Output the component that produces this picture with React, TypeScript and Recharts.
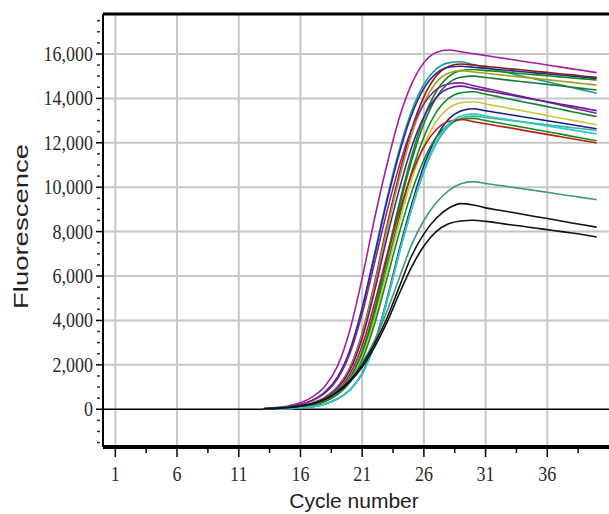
import React from 'react';
import { LineChart, Line, XAxis, YAxis, ReferenceLine, Label } from 'recharts';

// cycles 13..40
const cycles = [13, 14, 15, 16, 17, 18, 19, 20, 21, 22, 23, 24, 25, 26, 27, 28, 29, 30, 31, 32, 33, 34, 35, 36, 37, 38, 39, 40];

const purpleTop = [30, 80, 150, 290, 570, 1050, 1940, 3560, 5910, 8580, 11000, 13110, 14640, 15610, 16070, 16180, 16100, 16010, 15930, 15840, 15760, 15670, 15590, 15500, 15420, 15330, 15250, 15160];
const tealTop = [20, 55, 110, 210, 415, 780, 1450, 2660, 4580, 7000, 9470, 11660, 13420, 14630, 15320, 15600, 15650, 15520, 15390, 15260, 15130, 15000, 14870, 14750, 14620, 14490, 14360, 14230];
const maroon = [15, 30, 80, 140, 280, 540, 1010, 1870, 3420, 5680, 8240, 10570, 12600, 14070, 15010, 15440, 15550, 15500, 15440, 15390, 15330, 15280, 15220, 15170, 15110, 15060, 15000, 14950];
const navyHigh = [20, 50, 110, 210, 410, 770, 1430, 2630, 4520, 6910, 9350, 11510, 13250, 14450, 15130, 15400, 15450, 15400, 15350, 15300, 15250, 15200, 15150, 15100, 15050, 15000, 14950, 14900];
const greenHigh = [10, 20, 55, 105, 210, 405, 765, 1415, 2600, 4480, 6850, 9260, 11400, 13120, 14310, 14980, 15250, 15300, 15250, 15210, 15160, 15110, 15070, 15020, 14970, 14920, 14880, 14830];
const olive = [15, 30, 75, 135, 275, 530, 990, 1830, 3360, 5570, 8080, 10370, 12350, 13800, 14720, 15140, 15250, 15190, 15130, 15070, 15010, 14950, 14900, 14840, 14780, 14720, 14660, 14600];
const greenMid = [10, 20, 50, 105, 200, 400, 750, 1390, 2550, 4390, 6710, 9080, 11180, 12860, 14030, 14690, 14950, 15000, 14940, 14880, 14810, 14750, 14690, 14630, 14570, 14500, 14440, 14380];
const purpleMid = [20, 50, 100, 200, 390, 735, 1360, 2500, 4300, 6580, 8890, 10950, 12610, 13740, 14390, 14650, 14700, 14575, 14450, 14330, 14200, 14080, 13950, 13830, 13700, 13580, 13450, 13330];
const violet = [15, 30, 75, 130, 260, 510, 950, 1750, 3200, 5310, 7710, 9890, 11790, 13170, 14040, 14450, 14550, 14450, 14350, 14250, 14150, 14050, 13950, 13850, 13750, 13650, 13550, 13450];
const greenLow = [10, 20, 50, 100, 190, 380, 715, 1320, 2430, 4180, 6400, 8650, 10650, 12260, 13370, 14000, 14250, 14300, 14190, 14080, 13960, 13850, 13740, 13630, 13520, 13400, 13290, 13180];
const yellow = [10, 20, 50, 95, 185, 365, 690, 1280, 2350, 4050, 6200, 8380, 10320, 11880, 12950, 13560, 13800, 13850, 13750, 13640, 13540, 13440, 13330, 13230, 13120, 13020, 12910, 12810];
const navyLow = [10, 10, 30, 70, 120, 240, 470, 880, 1620, 2980, 4940, 7170, 9200, 10960, 12240, 13060, 13430, 13530, 13440, 13350, 13260, 13170, 13080, 12990, 12900, 12810, 12720, 12630];
const lightSea = [5, 15, 25, 65, 120, 240, 460, 860, 1580, 2900, 4820, 7000, 8980, 10690, 11950, 12740, 13110, 13200, 13140, 13070, 13010, 12940, 12880, 12810, 12750, 12680, 12620, 12550];
const greenBottom = [10, 20, 45, 90, 175, 345, 655, 1210, 2230, 3830, 5860, 7930, 9760, 11230, 12250, 12820, 13050, 13100, 13000, 12900, 12800, 12700, 12600, 12500, 12400, 12290, 12190, 12090];
const red = [15, 25, 65, 120, 235, 455, 850, 1570, 2870, 4760, 6920, 8870, 10570, 11810, 12590, 12960, 13050, 12950, 12860, 12760, 12670, 12570, 12470, 12380, 12280, 12180, 12090, 11990];
const cyan = [5, 15, 25, 65, 120, 240, 465, 865, 1600, 2930, 4850, 7050, 9040, 10770, 12040, 12830, 13210, 13300, 13210, 13120, 13030, 12940, 12850, 12760, 12670, 12580, 12490, 12400];
const seaGreen = [20, 40, 75, 140, 260, 480, 850, 1400, 2100, 3100, 4400, 5900, 7400, 8500, 9300, 9850, 10150, 10250, 10170, 10090, 10010, 9930, 9850, 9770, 9680, 9600, 9520, 9440];
const blackHigh = [20, 40, 80, 150, 260, 460, 800, 1300, 2000, 2950, 4100, 5500, 6900, 7900, 8600, 9050, 9260, 9200, 9070, 8970, 8880, 8780, 8680, 8590, 8490, 8390, 8300, 8200];
const blackLow = [20, 40, 80, 140, 250, 440, 760, 1230, 1900, 2800, 3900, 5200, 6400, 7350, 8000, 8350, 8480, 8510, 8460, 8390, 8310, 8240, 8160, 8090, 8010, 7940, 7860, 7760];

const cycleTicks = [1, 6, 11, 16, 21, 26, 31, 36];
const cycleMinorTicks = [3.5, 8.5, 13.5, 18.5, 23.5, 28.5, 33.5, 38.5];
const fluorTicks = [0, 2000, 4000, 6000, 8000, 10000, 12000, 14000, 16000];

const X_MIN = 0;
const X_MAX = 41;
const Y_MIN = -1700;
const Y_MAX = 17800;

const fluorMinorTicks: number[] = [];
for (let v = -1500; v <= 17500; v += 500) {
  if (v % 2000 !== 0) fluorMinorTicks.push(v);
}

const series = [
  { key: 'purpleTop', values: purpleTop, color: '#a020a0' },
  { key: 'tealTop', values: tealTop, color: '#1a9a9a' },
  { key: 'maroon', values: maroon, color: '#8b1a1a' },
  { key: 'navyHigh', values: navyHigh, color: '#2a2a8a' },
  { key: 'greenHigh', values: greenHigh, color: '#108a10' },
  { key: 'olive', values: olive, color: '#a0a020' },
  { key: 'greenMid', values: greenMid, color: '#1a7a3a' },
  { key: 'purpleMid', values: purpleMid, color: '#902090' },
  { key: 'violet', values: violet, color: '#5a1a9a' },
  { key: 'greenLow', values: greenLow, color: '#0a8a2a' },
  { key: 'yellow', values: yellow, color: '#c8c83a' },
  { key: 'navyLow', values: navyLow, color: '#1a1a8a' },
  { key: 'lightSea', values: lightSea, color: '#3ab0a0' },
  { key: 'greenBottom', values: greenBottom, color: '#1a8a1a' },
  { key: 'red', values: red, color: '#c01a1a' },
  { key: 'cyan', values: cyan, color: '#30c8c8' },
  { key: 'seaGreen', values: seaGreen, color: '#3a9a80' },
  { key: 'blackHigh', values: blackHigh, color: '#111111' },
  { key: 'blackLow', values: blackLow, color: '#111111' },
];

const data = cycles.map((cycle, i) => {
  const row: Record<string, number> = { cycle };
  series.forEach((s) => {
    row[s.key] = s.values[i];
  });
  return row;
});

const tickFont = '"Liberation Serif", "Times New Roman", serif';
const titleFont = '"Liberation Sans", Arial, sans-serif';

const XTick = (props: any) => {
  const { x, y, payload } = props;
  const major = cycleTicks.includes(payload.value);
  return (
    <g>
      <line x1={x} x2={x} y1={y} y2={y + (major ? 10 : 6)} stroke="#000" strokeWidth={1.5} />
      {major && (
        <text
          transform={`translate(${x},${y + 34}) scale(1,1.2)`}
          textAnchor="middle"
          fontFamily={tickFont}
          fontSize={18}
          fill="#2a2a2a"
        >
          {payload.value}
        </text>
      )}
    </g>
  );
};

const YTick = (props: any) => {
  const { x, y, payload } = props;
  const major = fluorTicks.includes(payload.value);
  if (!major) {
    return <line x1={x - 6} x2={x - 3} y1={y} y2={y} stroke="#333" strokeWidth={1.5} />;
  }
  return (
    <g>
      <line x1={x - 7} x2={x} y1={y} y2={y} stroke="#000" strokeWidth={1.5} />
      <text
        transform={`translate(${x - 10},${y + 7}) scale(1,1.2)`}
        textAnchor="end"
        fontFamily={tickFont}
        fontSize={18}
        fill="#2a2a2a"
      >
        {payload.value.toLocaleString('en-US')}
      </text>
    </g>
  );
};

export default function App() {
  return (
    <div style={{ position: 'fixed', left: 0, top: 0, background: '#fff' }}>
      <LineChart width={609} height={514} data={data} margin={{ top: 14, right: 0, bottom: 0, left: 0 }}>
        {cycleTicks.map((t) => (
          <ReferenceLine key={`vx-${t}`} x={t} stroke="#c6c6c6" strokeWidth={2} />
        ))}
        {fluorTicks
          .filter((t) => t !== 0)
          .map((t) => (
            <ReferenceLine key={`hy-${t}`} y={t} stroke="#c6c6c6" strokeWidth={2} />
          ))}
        <ReferenceLine y={0} stroke="#000" strokeWidth={1.5} />
        <ReferenceLine y={Y_MAX} stroke="#000" strokeWidth={3} />
        <XAxis
          dataKey="cycle"
          type="number"
          domain={[X_MIN, X_MAX]}
          allowDataOverflow
          ticks={[...cycleTicks, ...cycleMinorTicks].sort((a, b) => a - b)}
          interval={0}
          height={67}
          tickSize={0}
          tickMargin={0}
          tickLine={false}
          tick={XTick}
          axisLine={{ stroke: '#000', strokeWidth: 4 }}
        >
          <Label
            content={({ viewBox }: any) => (
              <text
                x={viewBox.x + viewBox.width / 2 - 2}
                y={viewBox.y + 61}
                textAnchor="middle"
                fontFamily={titleFont}
                fontSize={21}
                fill="#222"
              >
                Cycle number
              </text>
            )}
          />
        </XAxis>
        <YAxis
          type="number"
          domain={[Y_MIN, Y_MAX]}
          allowDataOverflow
          ticks={[...fluorTicks, ...fluorMinorTicks].sort((a, b) => a - b)}
          interval={0}
          width={103}
          tickSize={0}
          tickMargin={0}
          tickLine={false}
          tick={YTick}
          axisLine={{ stroke: '#000', strokeWidth: 2 }}
        >
          <Label
            content={({ viewBox }: any) => (
              <text
                transform={`translate(${viewBox.x + 28},${viewBox.y + viewBox.height / 2 - 4}) rotate(-90)`}
                textAnchor="middle"
                fontFamily={titleFont}
                fontSize={21}
                textLength={165}
                lengthAdjust="spacingAndGlyphs"
                fill="#222"
              >
                Fluorescence
              </text>
            )}
          />
        </YAxis>
        {series.map((s) => (
          <Line
            key={s.key}
            dataKey={s.key}
            type="monotone"
            stroke={s.color}
            strokeWidth={1.6}
            dot={false}
            activeDot={false}
            isAnimationActive={false}
          />
        ))}
      </LineChart>
    </div>
  );
}
